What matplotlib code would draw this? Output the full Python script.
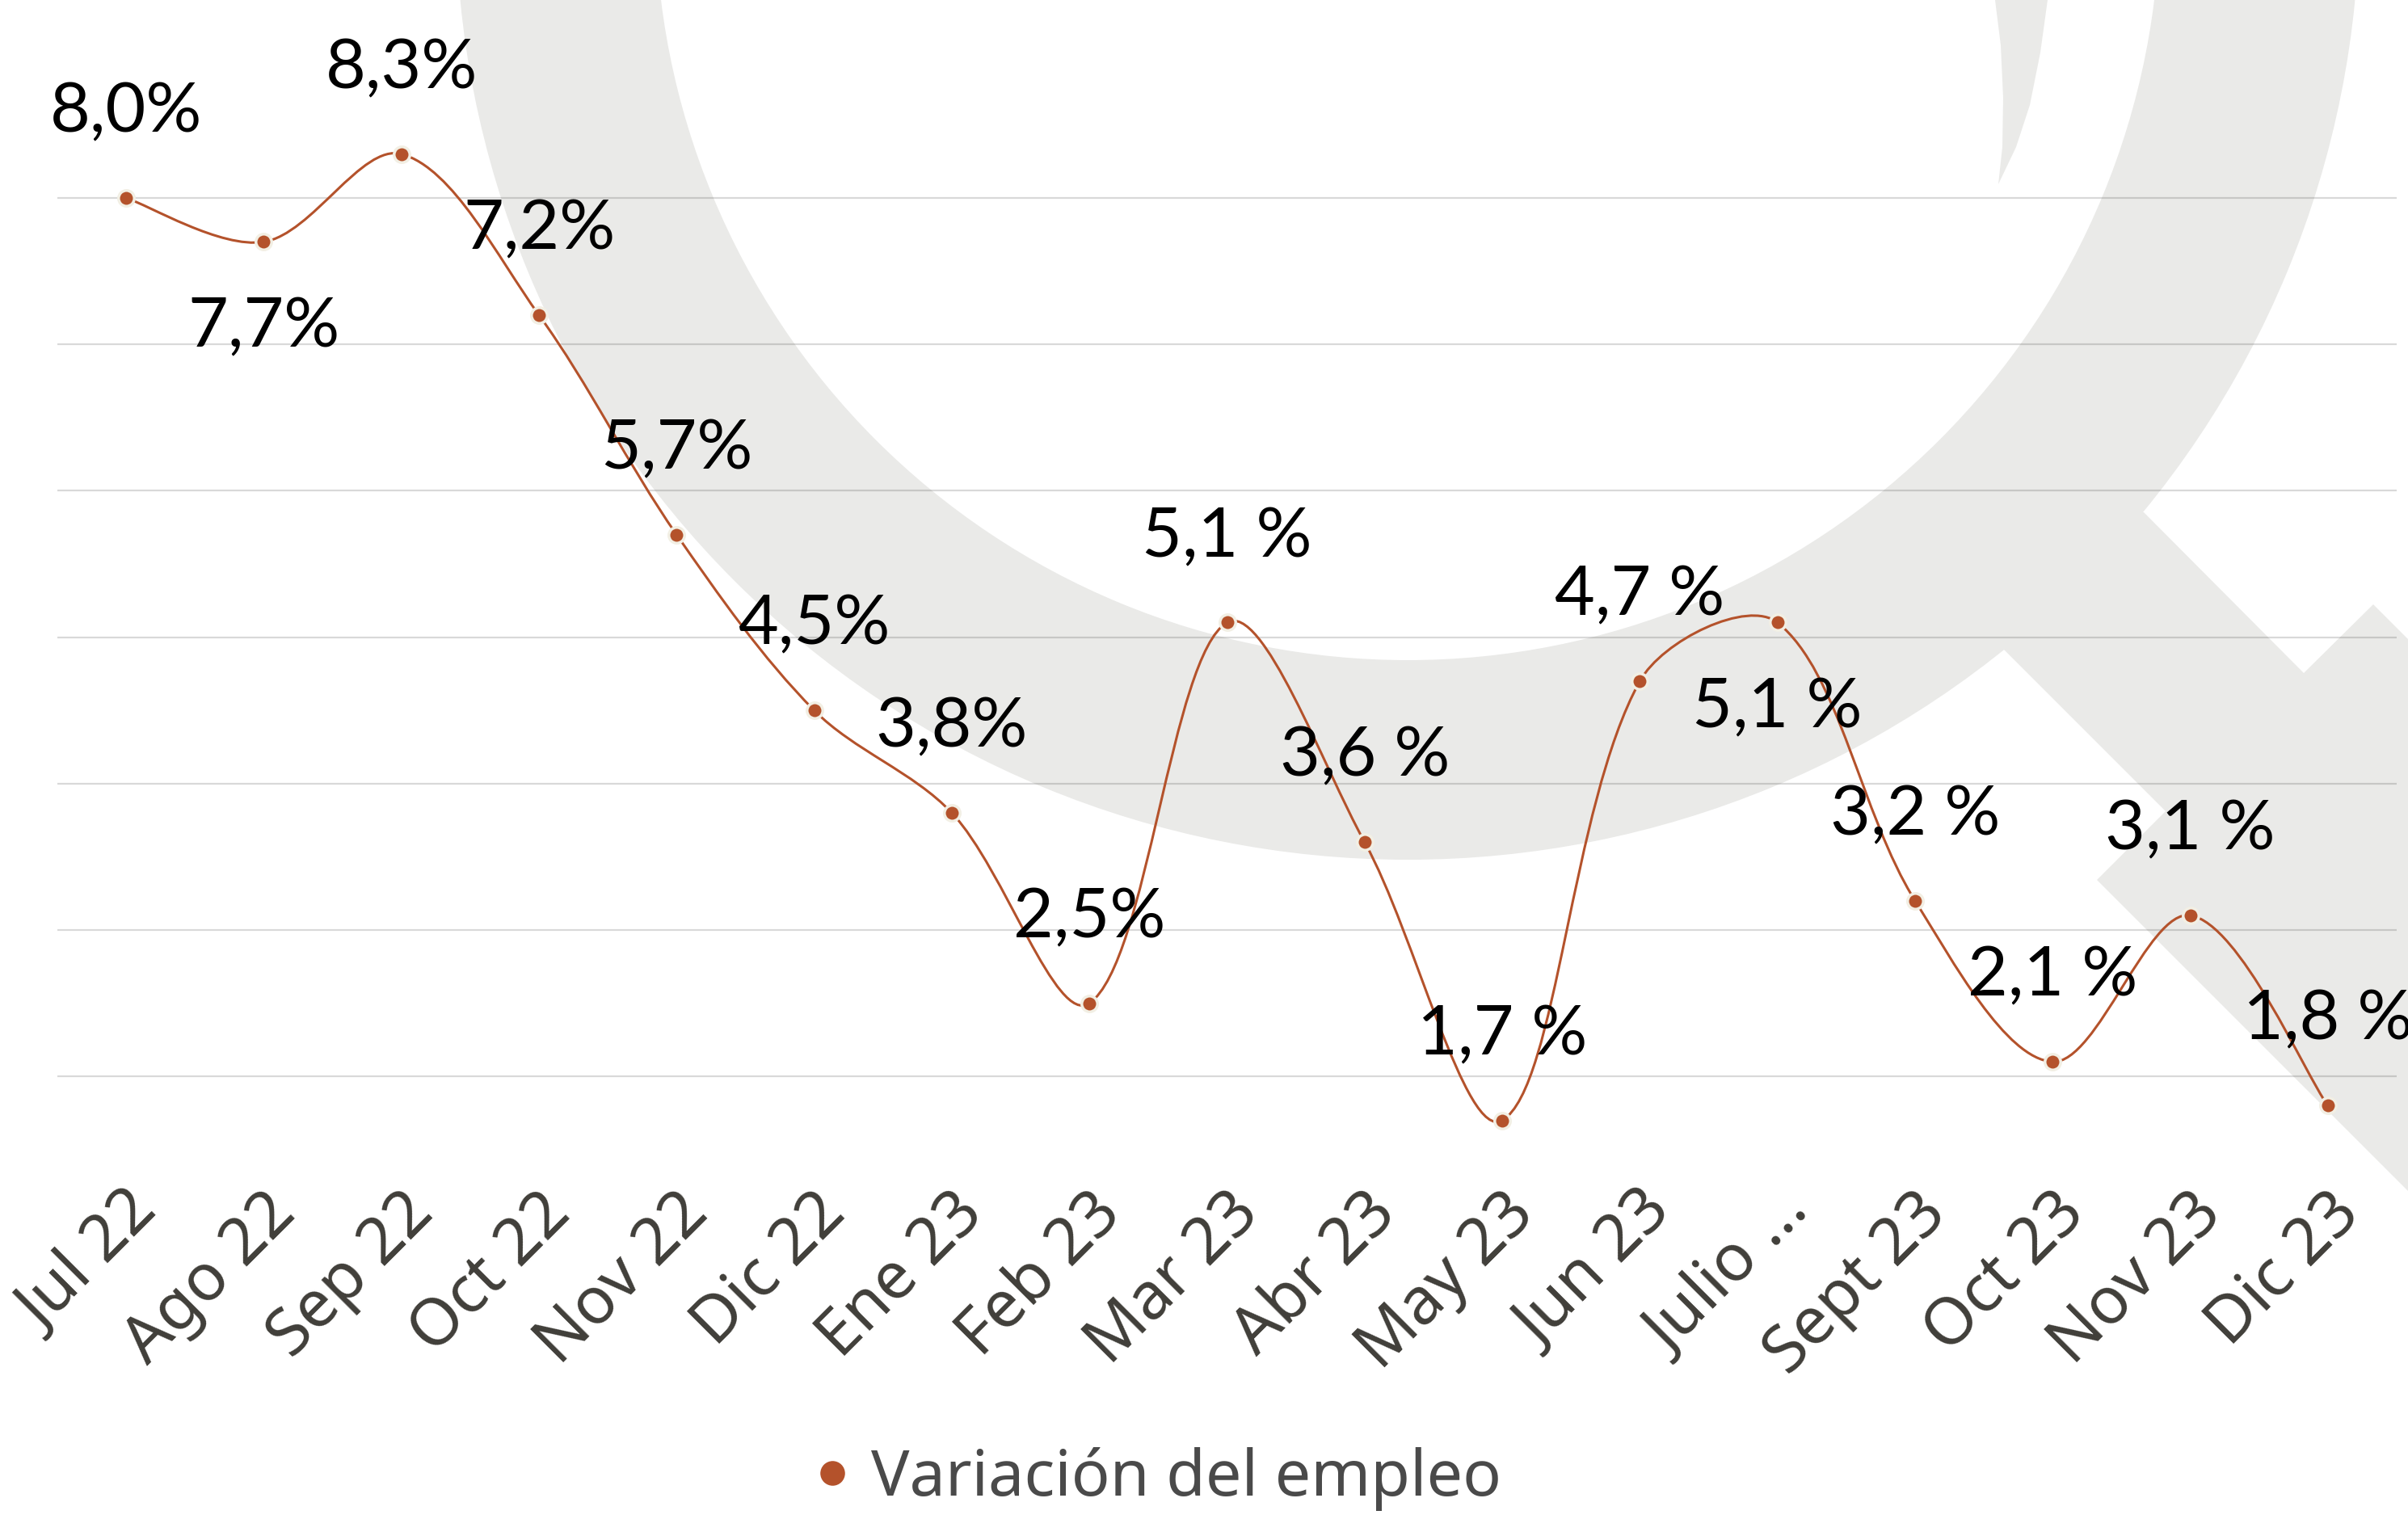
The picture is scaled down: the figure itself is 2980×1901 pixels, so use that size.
import numpy as np
import matplotlib
matplotlib.use("Agg")
import matplotlib.pyplot as plt
from matplotlib.path import Path
from matplotlib.patches import PathPatch, Wedge, Polygon
from matplotlib.lines import Line2D
from matplotlib.transforms import ScaledTranslation

# datos: variacion del empleo, jul 22 - dic 23
months = ["Jul 22", "Ago 22", "Sep 22", "Oct 22", "Nov 22", "Dic 22", "Ene 23",
          "Feb 23", "Mar 23", "Abr 23", "May 23", "Jun 23", "Julio ...",
          "Sept 23", "Oct 23", "Nov 23", "Dic 23"]
values = [8.0, 7.7, 8.3, 7.2, 5.7, 4.5, 3.8, 2.5, 5.1, 3.6, 1.7, 4.7, 5.1,
          3.2, 2.1, 3.1, 1.8]
value_labels = ["8,0%", "7,7%", "8,3%", "7,2%", "5,7%", "4,5%", "3,8%", "2,5%",
                "5,1 %", "3,6 %", "1,7 %", "4,7 %", "5,1 %", "3,2 %", "2,1 %",
                "3,1 %", "1,8 %"]
labels_below = ["Ago 22", "Julio ..."]
series_name = "Variación del empleo"

line_color = "#B4522B"
wm_color = "#EAEAE8"

W, H = 2980, 1901
fig = plt.figure(figsize=(W / 100, H / 100), dpi=100)
fig.patch.set_facecolor("white")

# fondo: marca de agua (lupa) en pixeles
bg = fig.add_axes([0, 0, 1, 1], zorder=0)
bg.set_xlim(0, W)
bg.set_ylim(H, 0)
bg.axis("off")
bg.add_patch(Wedge((1742, -114), 1178, 0, 360, width=247, color=wm_color, lw=0))
bg.add_patch(Polygon([(2653, 634), (2851, 833), (2937, 748), (3300, 1111),
                      (3300, 1794), (2595, 1089), (2680, 1004), (2480, 804),
                      (2480, 633)], closed=True, color=wm_color, lw=0))
bg.add_patch(Polygon([(2469, 0), (2476, 56), (2479, 121), (2478, 182), (2473, 228),
                      (2495, 182), (2512, 130), (2525, 65), (2534, 0)],
                     closed=True, color=wm_color, lw=0))

# eje principal
ymin, ymax = 1.3, 9.2
top_px = 245 - (ymax - 8) * 181.2
bot_px = 245 + (8 - ymin) * 181.2
ax = fig.add_axes([71 / W, 1 - bot_px / H, (2966 - 71) / W, (bot_px - top_px) / H],
                  zorder=1)
ax.set_facecolor("none")
x = np.arange(len(values))
ax.set_xlim(-0.5, len(values) - 0.5)
ax.set_ylim(ymin, ymax)

ax.set_yticks([2, 3, 4, 5, 6, 7, 8])
ax.yaxis.grid(True, color="black", alpha=0.15, lw=1.6)
ax.set_axisbelow(True)
ax.tick_params(axis="y", length=0, labelleft=False)
for s in ax.spines.values():
    s.set_visible(False)

# linea suavizada (bezier tipo excel), calculada en escala de pantalla
sx, sy = 170.3, 181.2
P = np.column_stack([x * sx, np.array(values) * sy])
n = len(P)
d = np.r_[np.linalg.norm(np.diff(P, axis=0), axis=1)]
verts = [tuple(P[0])]
codes = [Path.MOVETO]
for i in range(n - 1):
    t1 = P[min(i + 1, n - 1)] - P[max(i - 1, 0)]
    t2 = P[min(i + 2, n - 1)] - P[i]
    dl = d[i - 1] if i > 0 else d[i]
    dr = d[i + 1] if i + 1 < n - 1 else d[i]
    c1 = P[i] + t1 * d[i] / (dl + d[i]) / 3
    c2 = P[i + 1] - t2 * d[i] / (d[i] + dr) / 3
    verts += [tuple(c1), tuple(c2), tuple(P[i + 1])]
    codes += [Path.CURVE4] * 3
verts = [(vx / sx, vy / sy) for vx, vy in verts]
ax.add_patch(PathPatch(Path(verts, codes), fill=False, edgecolor=line_color,
                       lw=2.2, zorder=2))
ax.plot(x, values, "o", color=line_color, ms=14, mec="#F2EFE4", mew=2.5, zorder=3)

for i, (v, t) in enumerate(zip(values, value_labels)):
    dy = -76 if months[i] in labels_below else 76
    ax.annotate(t, (i, v), xytext=(0, dy), textcoords="offset points",
                ha="center", va="center", fontsize=62, family="Lato",
                color="black", zorder=4)

ax.set_xticks(x)
ax.set_xticklabels(months, rotation=45, ha="right", va="center",
                   rotation_mode="anchor", fontsize=58, family="Noto Sans",
                   color="#403E39")
ax.tick_params(axis="x", length=0, pad=22)
for lab in ax.get_xticklabels():
    lab.set_transform(lab.get_transform() + ScaledTranslation(0.27, 0, fig.dpi_scale_trans))

handle = Line2D([], [], marker="o", ls="none", color=line_color, ms=22, mew=0)
fig.legend([handle], [series_name], loc="center", bbox_to_anchor=(0.478, 0.037),
           frameon=False, prop={"family": "Noto Sans", "size": 57},
           labelcolor="#4A4A4A", handletextpad=0.1, handlelength=1.0)

fig.savefig("out.png", dpi=100, facecolor="white")
